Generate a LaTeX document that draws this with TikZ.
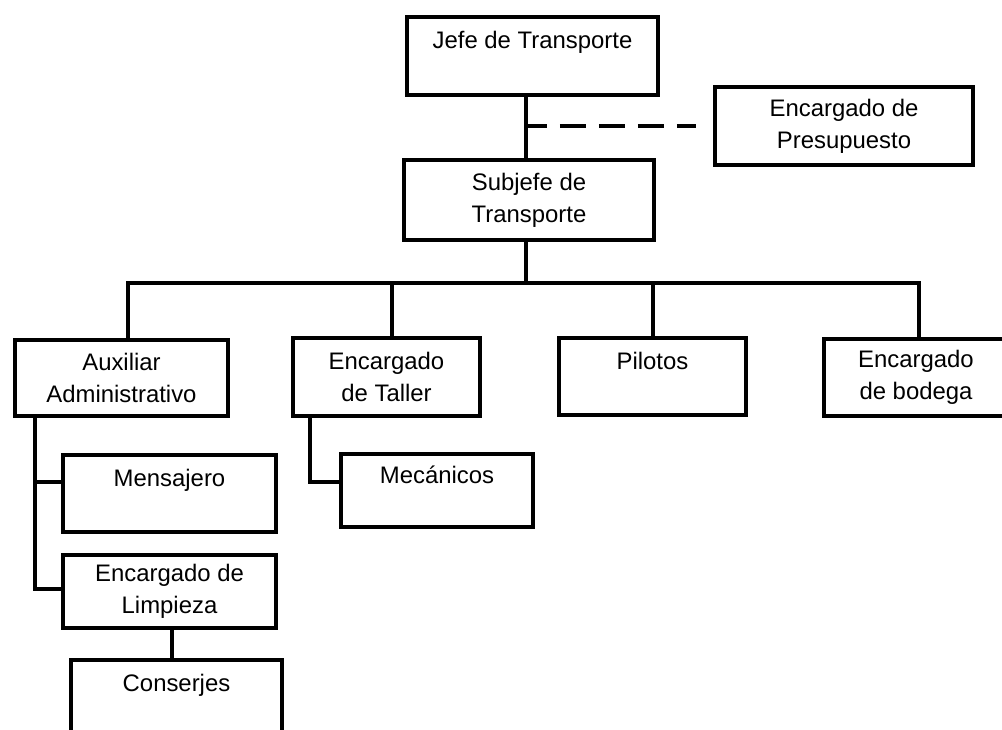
\documentclass[tikz,border=0pt]{standalone}
\usepackage{fontspec}
\setmainfont{Liberation Sans}
\begin{document}
\begin{tikzpicture}[x=0.02cm,y=-0.02cm,line width=0.09cm,
    box/.style={draw,inner sep=0pt,align=center,font=\fontsize{13.6pt}{18.2pt}\selectfont},
    sz/.style 2 args={minimum width=#1*0.02cm,minimum height=#2*0.02cm},
    dashline/.style={dash pattern=on 0.52cm off 0.26cm,dash phase=0.1cm}]
    \useasboundingbox (0,0) rectangle (1002,730);

    \node (jefe) at (532.5,56) [box,sz={251}{78}]{Jefe de Transporte\\\mbox{}};
    \node (presup) at (844,126) [box,sz={258}{78}]{Encargado de\\Presupuesto};
    \node (subjefe) at (529,200) [box,sz={250}{80}]{Subjefe de\\Transporte};
    \node (aux) at (121.5,378) [box,sz={213}{76}]{Auxiliar\\Administrativo};
    \node (taller) at (386.5,377) [box,sz={187}{78}]{Encargado\\de Taller};
    \node (pilotos) at (652.5,376.5) [box,sz={187}{77}]{Pilotos\\\mbox{}};
    \node (bodega) at (916,377.5) [box,sz={184}{77}]{Encargado\\de bodega};
    \node (mensajero) at (169.5,493.5) [box,sz={213}{77}]{Mensajero\\\mbox{}};
    \node (limpieza) at (169.5,591.5) [box,sz={213}{73}]{Encargado de\\Limpieza};
    \node (conserjes) at (176.5,699) [box,sz={211}{78}]{Conserjes\\\mbox{}};
    \node (mecanicos) at (437,490.5) [box,sz={192}{73}]{Mecánicos\\\mbox{}};

    \coordinate (sp) at (526,126);
    \coordinate (dend) at (696,126);
    \coordinate (bar) at (526,283);
    \coordinate (bA) at (128,283);
    \coordinate (bT) at (392,283);
    \coordinate (bP) at (653,283);
    \coordinate (bB) at (919,283);
    \coordinate (am) at (35,482);
    \coordinate (al) at (35,589);
    \coordinate (ta) at (310,482);
    \coordinate (lc) at (172,640);

    \draw (sp |- jefe.south) -- (sp |- subjefe.north);
    \draw[dashline] (sp) -- (dend);

    \draw (bar |- subjefe.south) -- (bar);
    \draw (bA |- aux.north) -- (bA) -- (bB) -- (bB |- bodega.north);
    \draw (bT) -- (bT |- taller.north);
    \draw (bP) -- (bP |- pilotos.north);

    \draw (am |- aux.south) -- (al) -- (al -| limpieza.west);
    \draw (am) -- (am -| mensajero.west);
    \draw (lc |- limpieza.south) -- (lc |- conserjes.north);

    \draw (ta |- taller.south) -- (ta) -- (ta -| mecanicos.west);

\end{tikzpicture}
\end{document}
